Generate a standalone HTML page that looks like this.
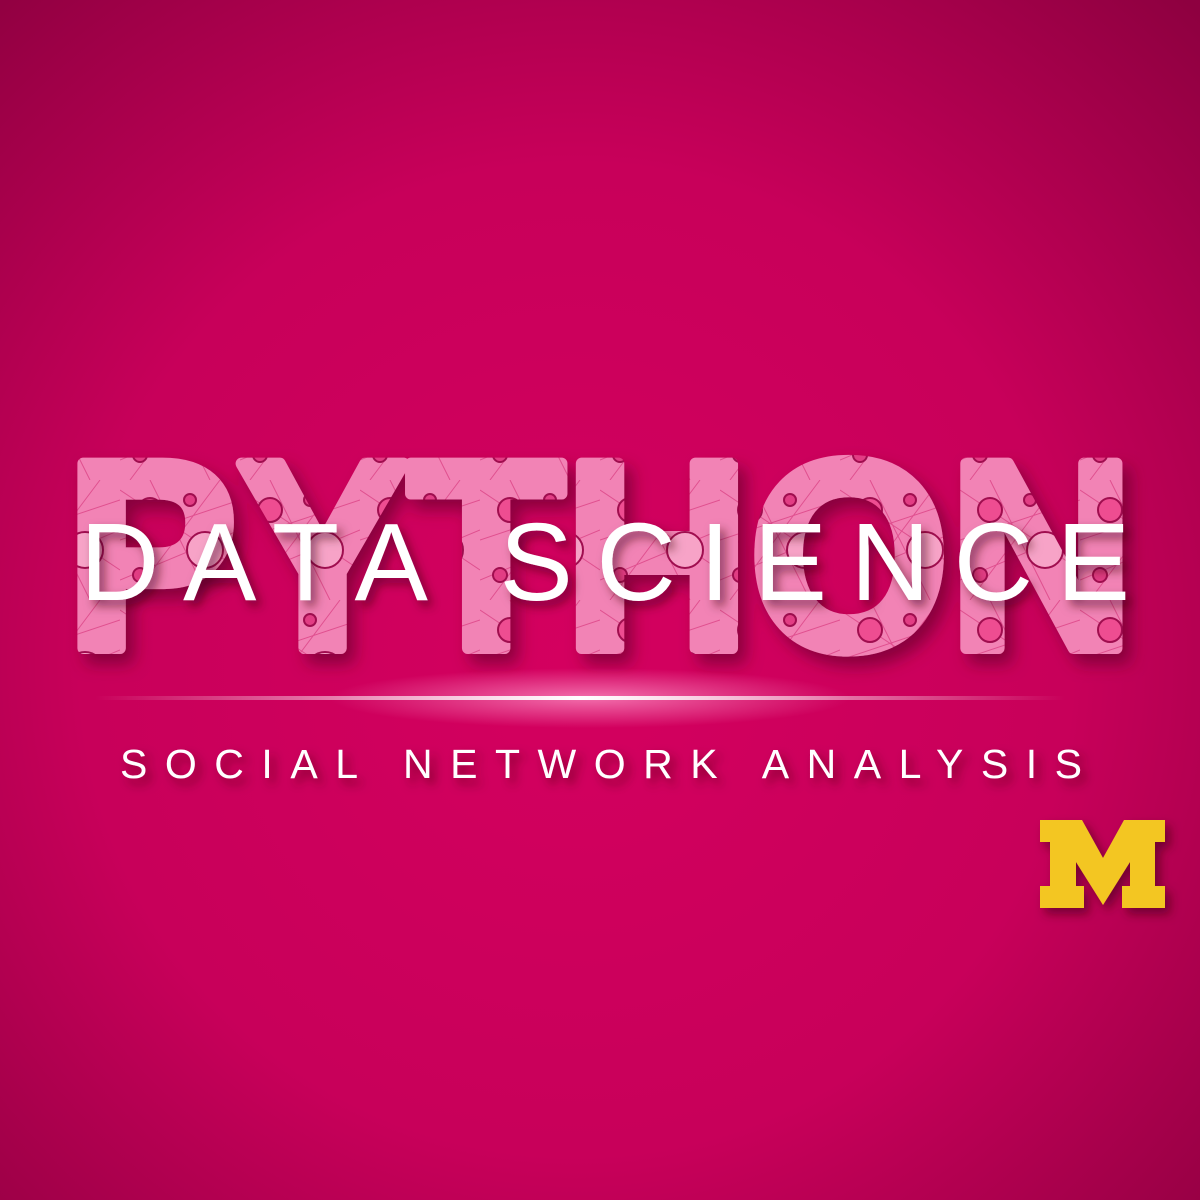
<!DOCTYPE html>
<html><head><meta charset="utf-8"><style>
html,body{margin:0;padding:0;width:1200px;height:1200px;overflow:hidden;background:#b8004f}
</style></head><body>
<svg width="1200" height="1200" viewBox="0 0 1200 1200" xmlns="http://www.w3.org/2000/svg">
<defs>
<radialGradient id="bg" cx="0.48" cy="0.55" r="0.75">
<stop offset="0" stop-color="#d4005f"/>
<stop offset="0.55" stop-color="#c8005a"/>
<stop offset="1" stop-color="#8e0040"/>
</radialGradient>
<pattern id="net" width="120" height="120" patternUnits="userSpaceOnUse">
<rect width="120" height="120" fill="#f283b5"/>
<path d="M0 10 L120 90 M0 60 L120 20 M30 0 L90 120 M100 0 L10 120 M0 100 L120 50" stroke="#e0508f" stroke-width="1"/>
<circle cx="30" cy="30" r="12" fill="#ee4d91" stroke="#a0104f" stroke-width="2"/>
<circle cx="85" cy="70" r="18" fill="#f7a3c7" stroke="#a0104f" stroke-width="2"/>
<circle cx="70" cy="20" r="6" fill="#e23d84" stroke="#a0104f" stroke-width="2"/>
<circle cx="20" cy="95" r="7" fill="#e23d84" stroke="#a0104f" stroke-width="2"/>
</pattern>
<filter id="sh" x="-10%" y="-10%" width="130%" height="140%">
<feDropShadow dx="8" dy="10" stdDeviation="8" flood-color="#5a0025" flood-opacity="0.6"/>
</filter>
<filter id="sh2" x="-10%" y="-20%" width="130%" height="150%">
<feDropShadow dx="5" dy="6" stdDeviation="5" flood-color="#3a0018" flood-opacity="0.55"/>
</filter>
<linearGradient id="line" x1="0" x2="1">
<stop offset="0" stop-color="#fff" stop-opacity="0"/>
<stop offset="0.5" stop-color="#fff" stop-opacity="1"/>
<stop offset="1" stop-color="#fff" stop-opacity="0"/>
</linearGradient>
<radialGradient id="glow" cx="0.5" cy="0.5" r="0.5">
<stop offset="0" stop-color="#ff9ccc" stop-opacity="0.7"/>
<stop offset="1" stop-color="#ff9ccc" stop-opacity="0"/>
</radialGradient>
</defs>
<rect width="1200" height="1200" fill="url(#bg)"/>
<text x="66" y="648" font-family="Liberation Sans, sans-serif" font-weight="bold" font-size="268" textLength="1068" lengthAdjust="spacingAndGlyphs" fill="url(#net)" stroke="url(#net)" stroke-width="12" stroke-linejoin="round" filter="url(#sh)">PYTHON</text>
<text x="80" y="600" font-family="Liberation Sans, sans-serif" font-size="110" textLength="1050" lengthAdjust="spacing" fill="#fff" filter="url(#sh2)">DATA SCIENCE</text>
<ellipse cx="590" cy="698" rx="260" ry="30" fill="url(#glow)"/>
<rect x="95" y="696" width="970" height="4" fill="url(#line)"/>
<text x="120" y="778" font-family="Liberation Sans, sans-serif" font-size="41" textLength="962" lengthAdjust="spacing" fill="#fff" filter="url(#sh2)">SOCIAL NETWORK ANALYSIS</text>
<g filter="url(#sh2)">
<path d="M1040 820 H1082 L1103 858 L1124 820 H1165 V842 H1155 V886 H1165 V908 H1122 V886 H1130 V862 L1103 905 L1076 862 V886 H1084 V908 H1040 V886 H1050 V842 H1040 Z" fill="#f3c623"/>
</g>
</svg>
</body></html>
